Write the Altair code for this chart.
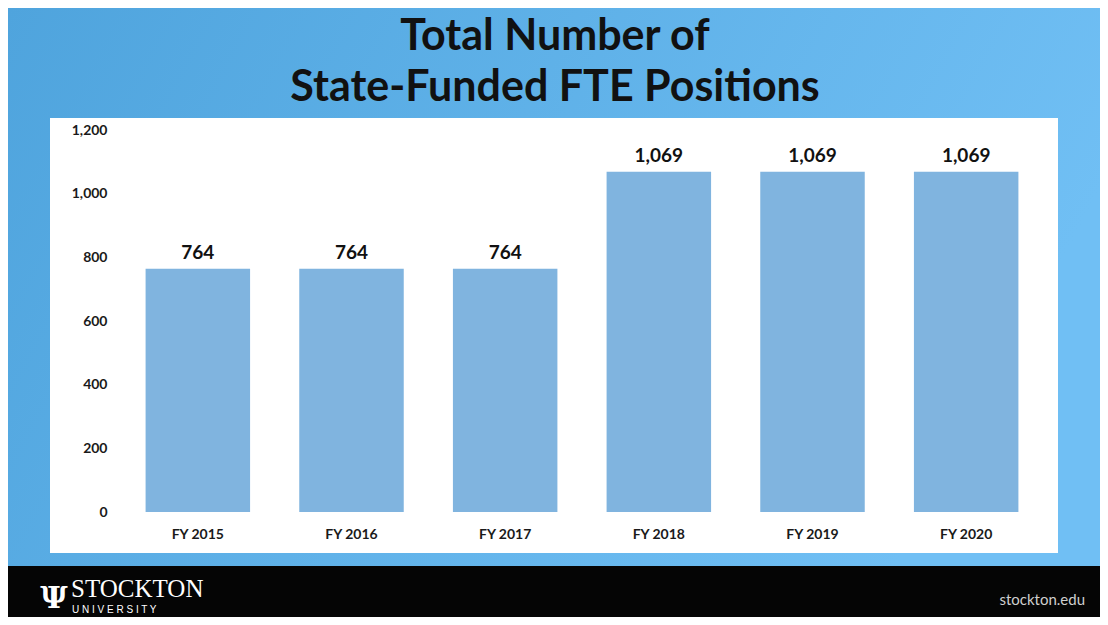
import altair as alt
import pandas as pd

categories = ["FY 2015", "FY 2016", "FY 2017", "FY 2018", "FY 2019", "FY 2020"]
values = [764, 764, 764, 1069, 1069, 1069]
y_ticks = [0, 200, 400, 600, 800, 1000, 1200]
title_lines = ["Total Number of", "State-Funded FTE Positions"]

df = pd.DataFrame({"year": categories, "fte": values})
one = pd.DataFrame({"k": [0]})

W, H = 922, 382  # plot area

bg = alt.Chart(one).mark_rect(
    color=alt.Gradient(
        gradient="linear",
        stops=[alt.GradientStop(color="#4fa4dd", offset=0),
               alt.GradientStop(color="#70bff4", offset=1)],
        x1=0, x2=1, y1=0, y2=0.3,
    )
).encode(x=alt.value(-113), x2=alt.value(979), y=alt.value(-122), y2=alt.value(487))

panel = alt.Chart(one).mark_rect(color="#ffffff").encode(
    x=alt.value(-71), x2=alt.value(937), y=alt.value(-12), y2=alt.value(423)
)

footer = alt.Chart(one).mark_rect(color="#050505").encode(
    x=alt.value(-113), x2=alt.value(979), y=alt.value(436), y2=alt.value(487)
)

t1 = alt.Chart(pd.DataFrame({"t": [title_lines[0]]})).mark_text(
    font="Lato", fontWeight="bold", fontSize=43, color="#111111", baseline="middle", align="center"
).encode(text="t:N", x=alt.value(434), y=alt.value(-93))
t2 = alt.Chart(pd.DataFrame({"t": [title_lines[1]]})).mark_text(
    font="Lato", fontWeight="bold", fontSize=43, color="#111111", baseline="middle", align="center"
).encode(text="t:N", x=alt.value(434), y=alt.value(-42))

stockton = alt.Chart(pd.DataFrame({"t": ["STOCKTON"]})).mark_text(
    font="Liberation Serif", fontSize=25, color="#ffffff", baseline="middle", align="left"
).encode(text="t:N", x=alt.value(-50), y=alt.value(459))
univ = alt.Chart(pd.DataFrame({"t": ["U N I V E R S I T Y"]})).mark_text(
    font="Liberation Sans", fontSize=10, color="#ffffff", baseline="middle", align="left"
).encode(text="t:N", x=alt.value(-49), y=alt.value(480))
web = alt.Chart(pd.DataFrame({"t": ["stockton.edu"]})).mark_text(
    font="Lato", fontSize=15, color="#cfcfcf", baseline="middle", align="right"
).encode(text="t:N", x=alt.value(964), y=alt.value(470))

# simple logo glyph
logo = alt.Chart(pd.DataFrame({"t": ["\u03A8"]})).mark_text(
    font="DejaVu Serif", fontWeight="bold", fontSize=30, color="#ffffff", baseline="middle", align="center"
).encode(text="t:N", x=alt.value(-67), y=alt.value(469))

x_enc = alt.X(
    "year:N", sort=categories, title=None,
    scale=alt.Scale(paddingInner=0.32, paddingOuter=0.16),
    axis=alt.Axis(labelAngle=0, ticks=False, domain=False, grid=False, labelPadding=15,
                  labelFont="Lato", labelFontWeight="bold", labelFontSize=14,
                  labelColor="#1a1a1a", zindex=2),
)
y_enc = alt.Y(
    "fte:Q", title=None,
    scale=alt.Scale(domain=[0, 1200], nice=False),
    axis=alt.Axis(values=y_ticks, format=",.0f", ticks=False, domain=False, grid=False,
                  labelPadding=14, labelFont="Lato", labelFontWeight="bold", labelFontSize=14,
                  labelColor="#1a1a1a", zindex=2),
)

bars = alt.Chart(df).mark_bar(color="#80b4df").encode(x=x_enc, y=y_enc)
labels = alt.Chart(df).mark_text(
    font="Lato", fontWeight="bold", fontSize=19, color="#111111", dy=-16, baseline="middle"
).encode(x=alt.X("year:N", sort=categories), y="fte:Q", text=alt.Text("fte:Q", format=",.0f"))

chart = alt.layer(bg, panel, footer, t1, t2, stockton, univ, web, logo, bars, labels).properties(
    width=W, height=H, padding=0
).configure_view(stroke=None, fill=None)

chart.save("out.html", embed_options={"renderer": "svg", "actions": False})
